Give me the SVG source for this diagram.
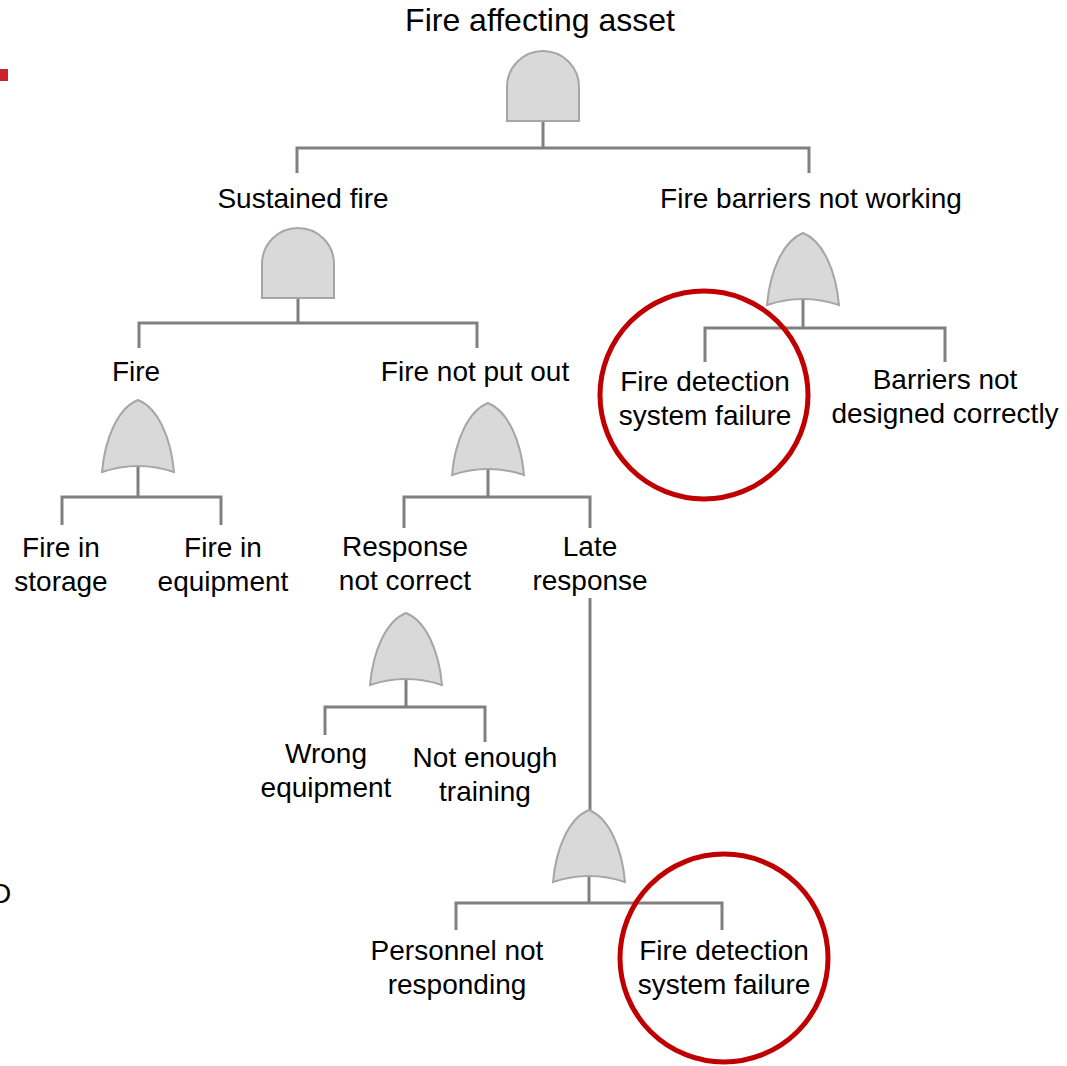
<svg xmlns="http://www.w3.org/2000/svg" width="1067" height="1066" viewBox="0 0 1067 1066">
  <style>
    .lbl { font-family: "Liberation Sans", Arial, sans-serif; font-size: 28px; fill: #000; text-anchor: middle; }
    .title { font-size: 32px; }
    .wire { fill: none; stroke: #808080; stroke-width: 3; }
    .gate { fill: #d9d9d9; stroke: #a6a6a6; stroke-width: 2; }
    .ring { fill: none; stroke: #c00000; stroke-width: 5; }
  </style>
  <defs>
    <!-- AND gate: flat base, rounded top; origin at top centre -->
    <path id="and" class="gate" d="M -36 70 L -36 36 A 36 36 0 0 1 36 36 L 36 70 Z"/>
    <!-- OR gate: pointed top, concave base; origin at top centre -->
    <path id="or" class="gate" d="M 0 0 C 20 8, 33 38, 36 72 Q 0 60, -36 72 C -33 38, -20 8, 0 0 Z"/>
  </defs>

  <rect width="1067" height="1066" fill="#fff"/>

  <!-- page edge marks -->
  <rect x="0" y="69" width="8" height="12" fill="#cc2229"/>
  <text class="lbl" x="-9" y="903" style="text-anchor:start">D</text>

  <!-- connectors -->
  <g id="connectors">
    <path class="wire" d="M 543 121 V 148 M 297 173 V 148 H 809 V 173"/>
    <path class="wire" d="M 298 297 V 323 M 139 348 V 323 H 477 V 348"/>
    <path class="wire" d="M 803 298 V 328 M 705 362 V 328 H 945 V 362"/>
    <path class="wire" d="M 138 466 V 497 M 62 525 V 497 H 221 V 525"/>
    <path class="wire" d="M 488 468 V 497 M 404 528 V 497 H 590 V 528"/>
    <path class="wire" d="M 590 598 V 810"/>
    <path class="wire" d="M 406 678 V 707 M 325 735 V 707 H 485 V 742"/>
    <path class="wire" d="M 589 876 V 903 M 456 930 V 903 H 722 V 930"/>
  </g>

  <!-- gates -->
  <g id="gate-top"><use href="#and" x="543" y="51"/></g>
  <g id="gate-sustained"><use href="#and" x="298" y="228"/></g>
  <g id="gate-barriers"><use href="#or" x="803" y="233"/></g>
  <g id="gate-fire"><use href="#or" x="138" y="400"/></g>
  <g id="gate-notout"><use href="#or" x="488" y="403"/></g>
  <g id="gate-response"><use href="#or" x="406" y="613"/></g>
  <g id="gate-late"><use href="#or" x="589" y="810"/></g>

  <!-- events -->
  <g id="ev-top"><text class="lbl title" x="540" y="31">Fire affecting asset</text></g>
  <g id="ev-sustained"><text class="lbl" x="303" y="208">Sustained fire</text></g>
  <g id="ev-barriers"><text class="lbl" x="811" y="208">Fire barriers not working</text></g>
  <g id="ev-fire"><text class="lbl" x="136" y="381">Fire</text></g>
  <g id="ev-notout"><text class="lbl" x="475" y="381">Fire not put out</text></g>
  <g id="ev-detect1">
    <text class="lbl" x="705" y="391">Fire detection</text>
    <text class="lbl" x="705" y="425">system failure</text>
    <circle class="ring" cx="704" cy="395" r="104"/>
  </g>
  <g id="ev-design">
    <text class="lbl" x="945" y="389">Barriers not</text>
    <text class="lbl" x="945" y="423">designed correctly</text>
  </g>
  <g id="ev-storage">
    <text class="lbl" x="61" y="557">Fire in</text>
    <text class="lbl" x="61" y="591">storage</text>
  </g>
  <g id="ev-equipment">
    <text class="lbl" x="223" y="557">Fire in</text>
    <text class="lbl" x="223" y="591">equipment</text>
  </g>
  <g id="ev-response">
    <text class="lbl" x="405" y="556">Response</text>
    <text class="lbl" x="405" y="590">not correct</text>
  </g>
  <g id="ev-late">
    <text class="lbl" x="590" y="556">Late</text>
    <text class="lbl" x="590" y="590">response</text>
  </g>
  <g id="ev-wrong">
    <text class="lbl" x="326" y="763">Wrong</text>
    <text class="lbl" x="326" y="797">equipment</text>
  </g>
  <g id="ev-training">
    <text class="lbl" x="485" y="767">Not enough</text>
    <text class="lbl" x="485" y="801">training</text>
  </g>
  <g id="ev-personnel">
    <text class="lbl" x="457" y="960">Personnel not</text>
    <text class="lbl" x="457" y="994">responding</text>
  </g>
  <g id="ev-detect2">
    <text class="lbl" x="724" y="960">Fire detection</text>
    <text class="lbl" x="724" y="994">system failure</text>
    <circle class="ring" cx="724" cy="958" r="104"/>
  </g>
</svg>
